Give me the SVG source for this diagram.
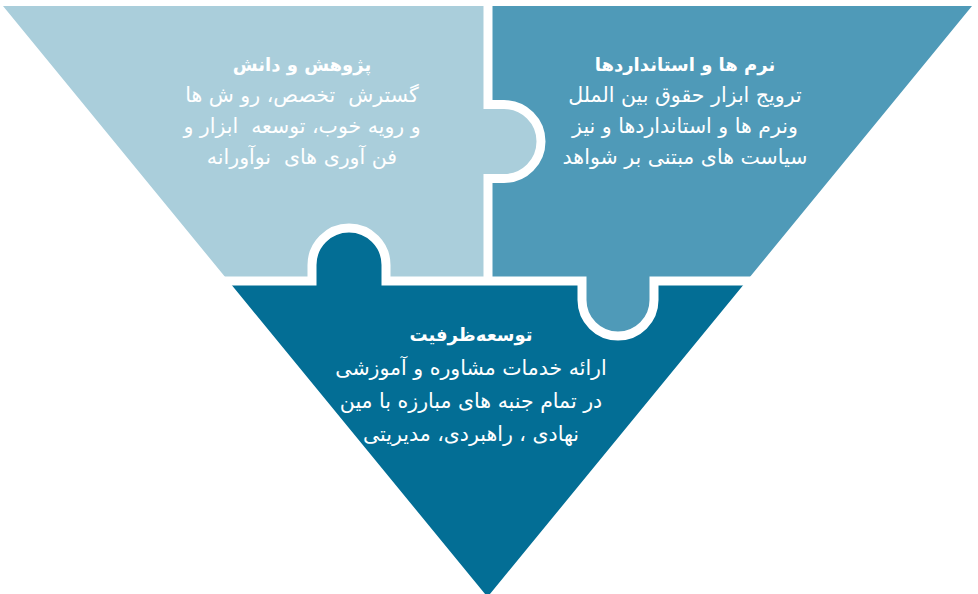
<svg xmlns="http://www.w3.org/2000/svg" width="978" height="594" viewBox="0 0 978 594">
<style>
.t{font-family:"DejaVu Sans","Noto Sans",sans-serif;fill:#ffffff;text-anchor:middle;direction:rtl;unicode-bidi:embed;white-space:pre}
.h{font-size:18px;font-weight:bold}
.b{font-size:20.5px}
.seam{fill:none;stroke:#ffffff;stroke-width:9;stroke-linejoin:miter}
</style>
<rect width="978" height="594" fill="#ffffff"/>
<g id="research">
<path fill="#AACEDB" d="M3,6 L488,6 L488,104.5 L504,104.5 A37,37 0 0 1 504,178.5 L488,178.5 L488,281 L386,281 L386,265 A37,37 0 0 0 312,265 L312,281 L228.4,281 Z"/>
</g>
<g id="norms">
<path fill="#4F9AB8" d="M488,6 L972,6 L746.6,281 L654,281 L654,300 A36,36 0 0 1 582,300 L582,281 L488,281 L488,178.5 L504,178.5 A37,37 0 0 0 504,104.5 L488,104.5 Z"/>
</g>
<g id="capacity">
<path fill="#036E95" d="M228.4,281 L312,281 L312,265 A37,37 0 0 1 386,265 L386,281 L582,281 L582,300 A36,36 0 0 0 654,300 L654,281 L746.6,281 L487.5,597 Z"/>
</g>
<g id="seams">
<path class="seam" d="M488,0 L488,104.5 L504,104.5 A37,37 0 0 1 504,178.5 L488,178.5 L488,281"/>
<path class="seam" d="M200,281 L312,281 L312,265 A37,37 0 0 1 386,265 L386,281 L582,281 L582,300 A36,36 0 0 0 654,300 L654,281 L780,281"/>
</g>
<g id="labels">
<text class="t h" x="302" y="71">پژوهش و دانش</text>
<text class="t b" x="302" y="102">گسترش  تخصص، رو ش ها</text>
<text class="t b" x="302" y="133">و رویه خوب، توسعه  ابزار و</text>
<text class="t b" x="302" y="164">فن آوری های  نوآورانه</text>
<text class="t h" x="685" y="71">نرم ها و استانداردها</text>
<text class="t b" x="685" y="102">ترویج ابزار حقوق بین الملل</text>
<text class="t b" x="685" y="133">ونرم ها و استانداردها و نیز</text>
<text class="t b" x="685" y="164">سیاست های مبتنی بر شواهد</text>
<text class="t h" x="471" y="341">توسعه‌ظرفیت</text>
<text class="t b" x="471" y="375">ارائه خدمات مشاوره و آموزشی</text>
<text class="t b" x="471" y="408">در تمام جنبه های مبارزه با مین</text>
<text class="t b" x="471" y="441">نهادی ، راهبردی، مدیریتی</text>
</g>
</svg>
